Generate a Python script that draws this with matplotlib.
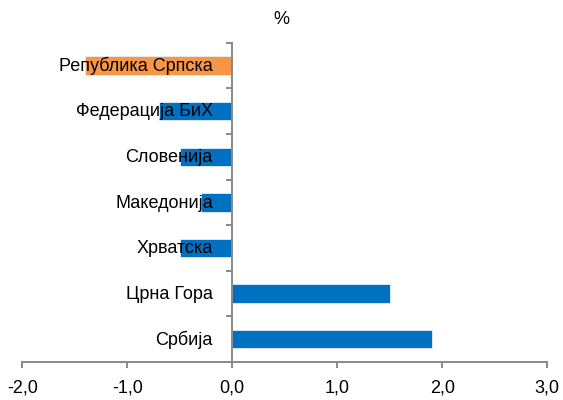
import numpy as np
import matplotlib.pyplot as plt
from matplotlib.ticker import FuncFormatter

plt.rcParams['font.family'] = ['Liberation Sans', 'DejaVu Sans']

countries = ['Република Српска', 'Федерација БиХ', 'Словенија', 'Македонија',
             'Хрватска', 'Црна Гора', 'Србија']
values = [-1.4, -0.7, -0.5, -0.3, -0.5, 1.5, 1.9]
colors = ['#F79646', '#0070C0', '#0070C0', '#0070C0', '#0070C0', '#0070C0', '#0070C0']
xticks = [-2, -1, 0, 1, 2, 3]

fig = plt.figure(figsize=(5.63, 4.0), dpi=100)
ax = fig.add_axes([0.0396, 0.095, 0.9325, 0.798])

pos = np.arange(len(countries))
ax.barh(pos, values, height=0.4, color=colors, edgecolor='#e6eef8', linewidth=0.6, zorder=2)
ax.set_ylim(len(countries) - 0.5, -0.5)
ax.set_xlim(-2, 3)

gray = '#898989'
ax.spines['left'].set_position(('data', 0))
ax.spines['top'].set_visible(False)
ax.spines['right'].set_visible(False)
for s in ['left', 'bottom']:
    ax.spines[s].set_color(gray)
    ax.spines[s].set_linewidth(1.4)
ax.spines['left'].set_zorder(3)

# category labels drawn as text so they sit on top of the bars
ax.set_yticks([])
ax.set_yticks(np.arange(len(countries) + 1) - 0.5, minor=True)
ax.tick_params(axis='y', which='minor', length=4.5, width=1.4, color=gray, direction='out')
for i, name in enumerate(countries):
    ax.annotate(name, xy=(0, i), xytext=(-14, -0.5), textcoords='offset points',
                ha='right', va='center', fontsize=13, zorder=5)

ax.set_xticks(xticks)
ax.xaxis.set_major_formatter(FuncFormatter(lambda v, p: f'{v:.1f}'.replace('.', ',')))
ax.tick_params(axis='x', length=4.5, width=1.4, color=gray, labelsize=13, pad=8)

fig.text(0.5, 0.952, '%', ha='center', va='center', fontsize=13)

fig.savefig('out.png', dpi=100)
